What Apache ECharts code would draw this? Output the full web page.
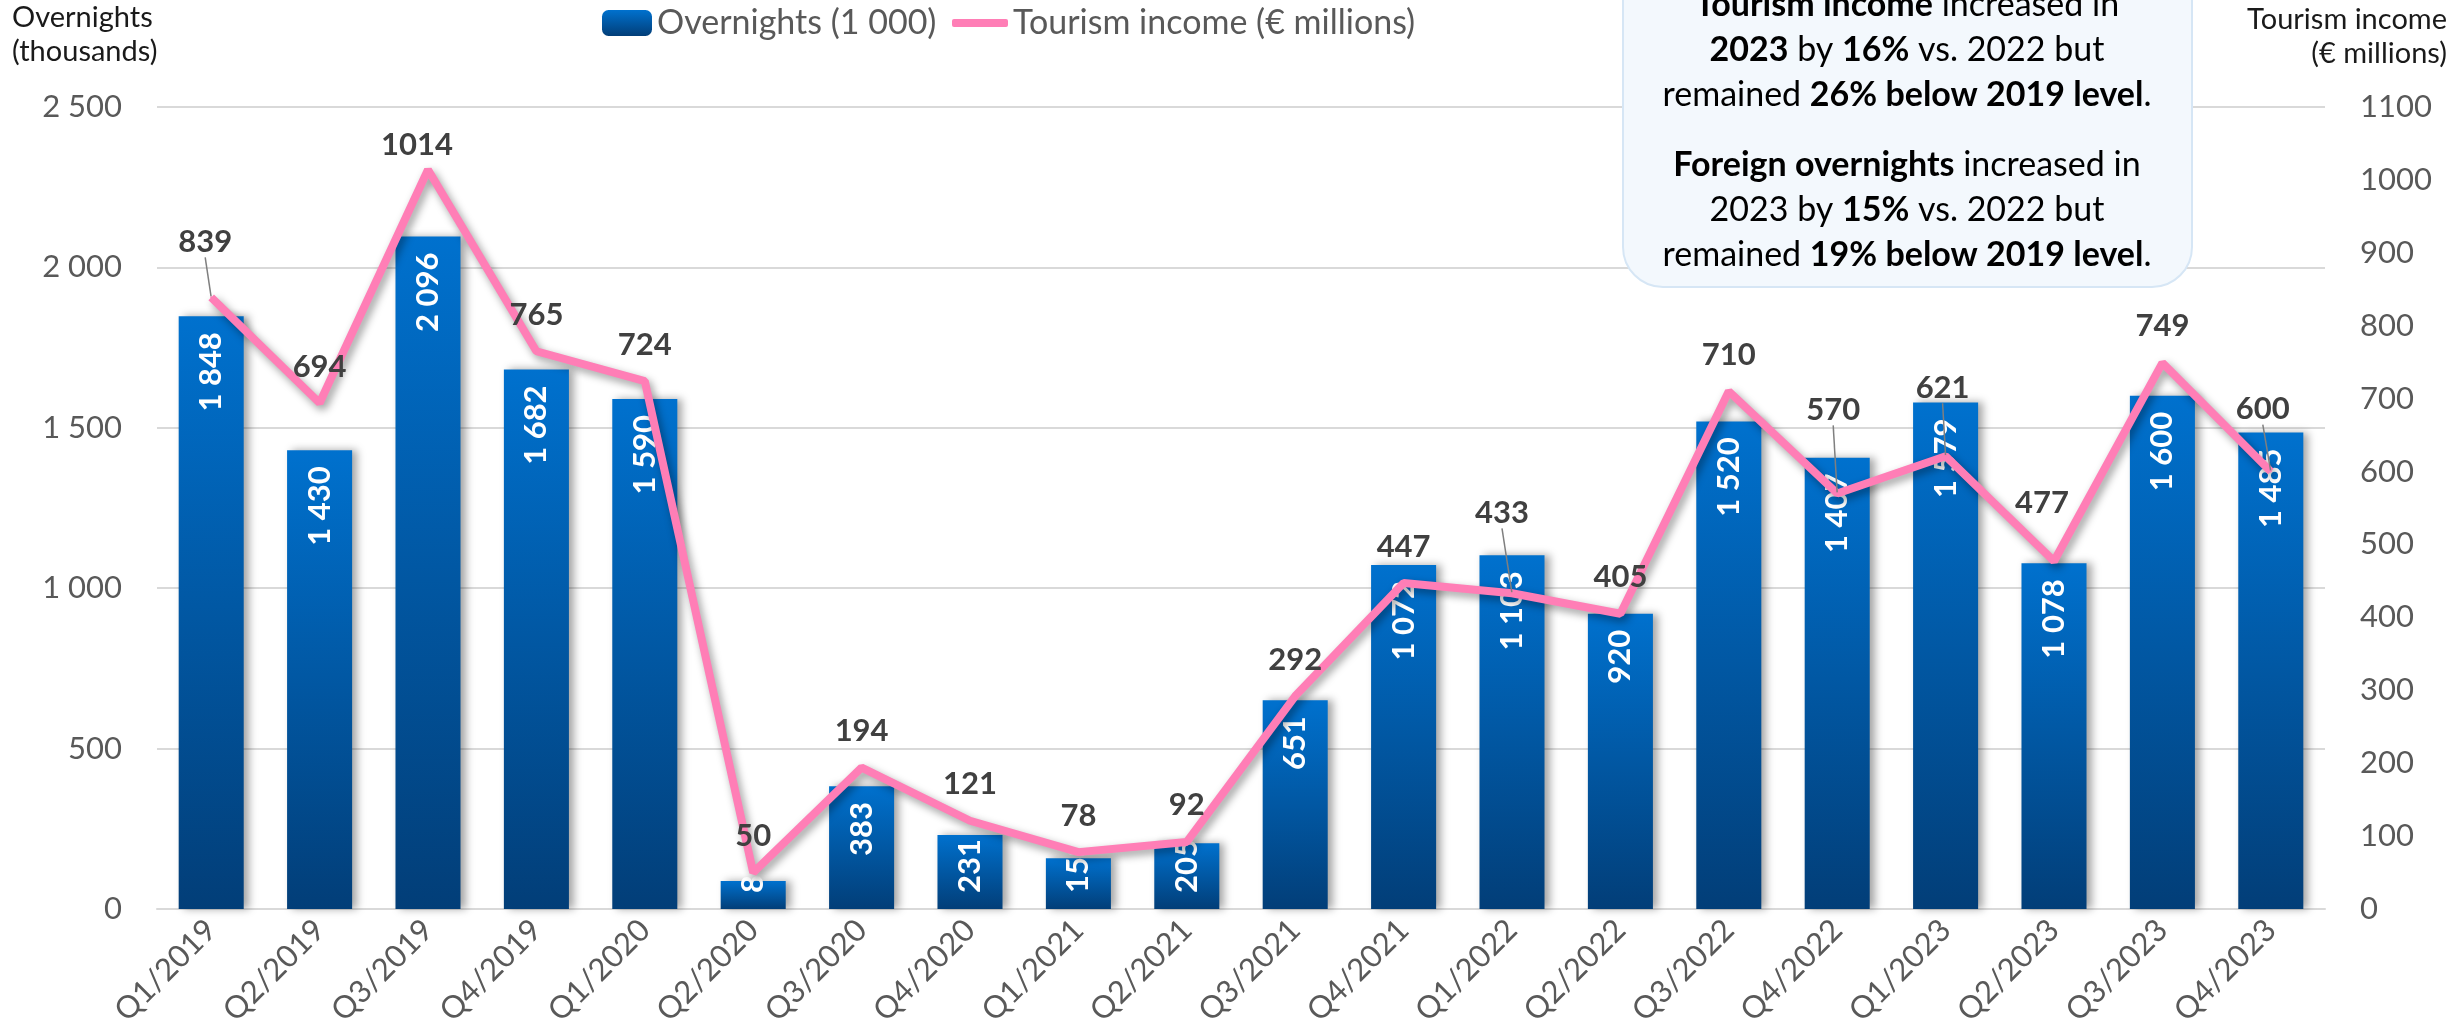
<!DOCTYPE html>
<html>
<head>
<meta charset="utf-8">
<title>Overnights and tourism income</title>
<script src="https://cdn.jsdelivr.net/npm/echarts@6/dist/echarts.min.js"></script>
<style>
html,body{margin:0;padding:0;background:#fff;}
#chart{width:2463px;height:1034px;}
</style>
</head>
<body>
<div id="chart"></div>
<script>
const quarters = ['Q1/2019','Q2/2019','Q3/2019','Q4/2019','Q1/2020','Q2/2020','Q3/2020','Q4/2020',
  'Q1/2021','Q2/2021','Q3/2021','Q4/2021','Q1/2022','Q2/2022','Q3/2022','Q4/2022',
  'Q1/2023','Q2/2023','Q3/2023','Q4/2023'];
const overnights = [1848,1430,2096,1682,1590,87,383,231,158,205,651,1072,1103,920,1520,1407,1579,1078,1600,1485];
const income = [839,694,1014,765,724,50,194,121,78,92,292,447,433,405,710,570,621,477,749,600];

const overnightsMax = 2500, overnightsStep = 500;
const incomeMax = 1100, incomeStep = 100;

// labels Excel moved by hand: [dx, dy], some with a leader line
const incomeLabelNudge = {0:[-6,-19], 2:[-11,12], 12:[-10,-44], 15:[-4,-47], 16:[-3,-32], 17:[-12,-22], 19:[-8,-26]};
const incomeLeader = [0,12,15,16,19];

const pink = '#FF7EB6';
const grey = '#595959';
const font = 'Lato';

function spaced(v){
  return String(v).replace(/\B(?=(\d{3})+(?!\d))/g,' ');
}

let myChart = echarts.init(document.getElementById('chart'));

const note = [
  '{b|Tourism income}{n| increased in}',
  '{b|2023}{n| by }{b|16%}{n| vs. 2022 but}',
  '{n|remained }{b|26% below 2019 level}{n|.}',
  '{g| }',
  '{b|Foreign overnights}{n| increased in}',
  '{n|2023 by }{b|15%}{n| vs. 2022 but}',
  '{n|remained }{b|19% below 2019 level}{n|.}'
].join('\n');

myChart.setOption({
  animation:false,
  textStyle:{fontFamily:font},
  grid:{left:157, right:138, top:107, bottom:125, outerBoundsMode:'none'},
  legend:[
    {
      data:['Overnights (1 000)'],
      left:597, top:1,
      itemWidth:50, itemHeight:26,
      textStyle:{color:grey, fontSize:34, fontFamily:font}
    },
    {
      data:[{name:'Tourism income (€ millions)', icon:'roundRect'}],
      left:947, top:1,
      itemWidth:56, itemHeight:8,
      textStyle:{color:grey, fontSize:34, fontFamily:font}
    }
  ],
  graphic:[
    {
      type:'text', x:12, y:1,
      style:{text:'Overnights\n(thousands)', align:'left', verticalAlign:'top',
        fontFamily:font, fontSize:29, lineHeight:34, fill:'#1a1a1a'}
    },
    {
      type:'text', x:2447, y:3,
      style:{text:'Tourism income\n(€ millions)', align:'right', verticalAlign:'top',
        fontFamily:font, fontSize:29, lineHeight:34, fill:'#1a1a1a'}
    },
    {
      type:'rect', z:100,
      shape:{x:1623, y:-60, width:569, height:347, r:40},
      style:{fill:'#F3F8FD', stroke:'#D6E6F5', lineWidth:2}
    },
    {
      type:'text', z:101, x:1907, y:-17,
      style:{
        text:note, align:'center', verticalAlign:'top',
        fontFamily:font, fontSize:34, lineHeight:45, fill:'#000',
        rich:{
          n:{fontFamily:font, fontSize:34, lineHeight:45, fill:'#000'},
          b:{fontFamily:font, fontSize:34, fontWeight:'bold', lineHeight:45, fill:'#000'},
          g:{fontSize:10, lineHeight:25}
        }
      }
    }
  ],
  xAxis:{
    type:'category',
    data:quarters,
    axisLine:{lineStyle:{color:'#D9D9D9', width:2}},
    axisTick:{show:false},
    axisLabel:{interval:0, rotate:45, margin:16, color:grey, fontSize:31, fontFamily:font}
  },
  yAxis:[
    {
      type:'value', min:0, max:overnightsMax, interval:overnightsStep,
      axisLine:{show:false}, axisTick:{show:false},
      axisLabel:{margin:35, color:grey, fontSize:31, fontFamily:font, formatter:spaced},
      splitLine:{lineStyle:{color:'#D9D9D9', width:2}}
    },
    {
      type:'value', min:0, max:incomeMax, interval:incomeStep, position:'right',
      axisLine:{show:false}, axisTick:{show:false},
      axisLabel:{margin:35, align:'left', color:grey, fontSize:31, fontFamily:font, formatter:v => String(v)},
      splitLine:{show:false}
    }
  ],
  series:[
    {
      name:'Overnights (1 000)',
      type:'bar',
      yAxisIndex:0,
      barWidth:'60%',
      data:overnights.map(v => v < 300
        ? {value:v, label:{position:'insideBottom', align:'left'}}
        : v),
      itemStyle:{
        color:new echarts.graphic.LinearGradient(0,0,0,1,[
          {offset:0, color:'#0071CE'},
          {offset:1, color:'#023E78'}
        ]),
        shadowColor:'rgba(0,0,0,0.35)',
        shadowBlur:8,
        shadowOffsetX:5,
        shadowOffsetY:0
      },
      label:{
        show:true, position:'insideTop', rotate:90, align:'right', verticalAlign:'middle',
        distance:16, color:'#fff', fontFamily:font, fontWeight:'bold', fontSize:31,
        formatter:p => spaced(p.value)
      }
    },
    {
      name:'Tourism income (€ millions)',
      type:'line',
      yAxisIndex:1,
      z:5,
      data:income.map((v,i) => incomeLeader.includes(i) ? {value:v, labelLine:{show:true}} : v),
      symbol:'circle',
      symbolSize:2,
      itemStyle:{color:pink},
      lineStyle:{
        color:pink, width:8,
        shadowColor:'rgba(0,0,0,0.4)', shadowBlur:8, shadowOffsetX:3, shadowOffsetY:4
      },
      label:{
        show:true, position:'top', distance:20,
        color:'#404040', fontFamily:font, fontWeight:'bold', fontSize:31
      },
      labelLine:{show:false, lineStyle:{color:'#7f7f7f', width:1.5}},
      labelLayout:function(p){
        const n = incomeLabelNudge[p.dataIndex];
        if(!n) return {};
        return {dx:n[0], dy:n[1]};
      }
    }
  ]
});
</script>
</body>
</html>
